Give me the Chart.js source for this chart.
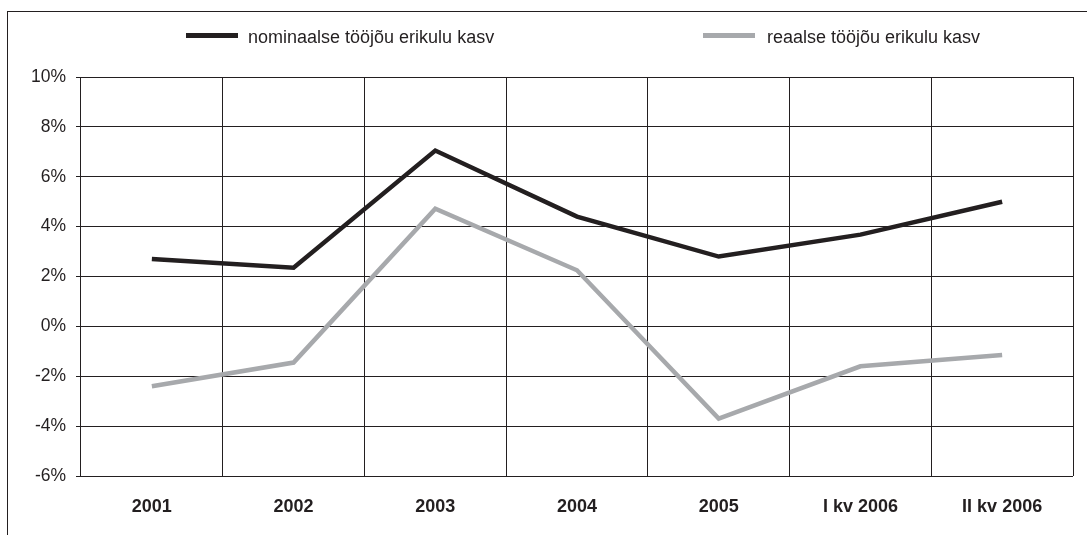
<!DOCTYPE html>
<html>
<head>
<meta charset="utf-8">
<script src="https://cdn.jsdelivr.net/npm/chart.js@4/dist/chart.umd.min.js"></script>
<style>
    html, body { margin: 0; padding: 0; background: #fff; }
    body { width: 1087px; height: 535px; overflow: hidden; position: relative; }
    .frame {
        position: absolute; left: 7px; top: 11px;
        width: 1080px; height: 524px;
        border-left: 1px solid #231f20; border-top: 1px solid #231f20;
    }
    .frame canvas { display: block; }
</style>
</head>
<body>
<div class="frame">
    <canvas id="kasvChart" width="1079" height="523"></canvas>
</div>
<script>
// Tööjõu erikulu kasv

const categories = ['2001', '2002', '2003', '2004', '2005', 'I kv 2006', 'II kv 2006'];
const nominalValues = [2.7, 2.35, 7.05, 4.4, 2.8, 3.68, 5.0];
const realValues = [-2.4, -1.45, 4.72, 2.25, -3.7, -1.6, -1.15];
const seriesLabels = ['nominaalse tööjõu erikulu kasv', 'reaalse tööjõu erikulu kasv'];
const yTicks = [10, 8, 6, 4, 2, 0, -2, -4, -6];

const ink = '#231f20';
const grey = '#a7a9ac';
const fontFamily = "'Liberation Sans', Arial, Helvetica, sans-serif";

// --- Legend drawn at the top, like the original ---
const topLegend = {
    id: 'topLegend',
    afterDraw(chart) {
        const c = chart.ctx;
        const samples = [178, 695]; // left edge of each legend sample
        const texts = [240, 759];   // where each label starts
        c.save();
        c.font = '18px ' + fontFamily;
        c.textBaseline = 'middle';
        chart.data.datasets.forEach(function(ds, i) {
            c.fillStyle = ds.borderColor;
            c.fillRect(samples[i], 21, 52, 5);
            c.fillStyle = ink;
            c.fillText(ds.label, texts[i], 26);
        });
        c.restore();
    }
};

new Chart(document.getElementById('kasvChart'), {
    type: 'line',
    data: {
        labels: categories,
        datasets: [
            {
                label: seriesLabels[0],
                data: nominalValues,
                borderColor: ink,
                backgroundColor: ink,
                borderWidth: 4.5,
                pointRadius: 0,
                tension: 0
            },
            {
                label: seriesLabels[1],
                data: realValues,
                borderColor: grey,
                backgroundColor: grey,
                borderWidth: 4.5,
                pointRadius: 0,
                tension: 0
            }
        ]
    },
    options: {
        responsive: false,
        animation: false,
        layout: { padding: { top: 65, right: 14, bottom: 0, left: 0 } },
        plugins: {
            legend: { display: false },
            tooltip: { enabled: false }
        },
        scales: {
            x: {
                offset: true,
                grid: {
                    offset: true,
                    color: ink,
                    lineWidth: 1,
                    drawTicks: false
                },
                border: { display: false },
                ticks: {
                    color: ink,
                    padding: 20,
                    font: { family: fontFamily, size: 18, weight: 'bold' }
                },
                afterFit: function(scale) { scale.height = 59; }
            },
            y: {
                min: -6,
                max: 10,
                afterBuildTicks: function(scale) {
                    scale.ticks = yTicks.map(function(v) { return { value: v }; });
                },
                grid: {
                    color: ink,
                    lineWidth: 1,
                    tickLength: 5
                },
                border: { display: false },
                ticks: {
                    color: ink,
                    padding: 10,
                    font: { family: fontFamily, size: 17.5 },
                    callback: function(value) { return value + '%'; }
                },
                afterFit: function(scale) { scale.width = 73; }
            }
        }
    },
    plugins: [topLegend]
});
</script>
</body>
</html>
